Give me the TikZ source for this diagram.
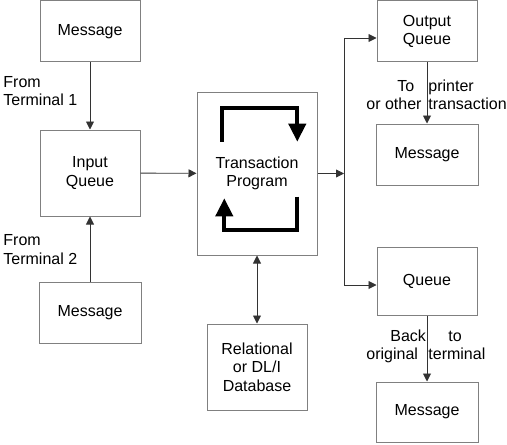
\documentclass[tikz,border=0pt]{standalone}
\usepackage{fontspec}
\setmainfont{Liberation Sans}
\usetikzlibrary{positioning,arrows.meta}
\definecolor{boxgray}{HTML}{808080}
\definecolor{linegray}{HTML}{333333}

\begin{document}
\begin{tikzpicture}[x=0.5pt, y=-0.5pt,
  txtfont/.style={font=\fontsize{8}{9.25}\selectfont},
  qbox/.style={draw=boxgray, line width=0.5pt, inner sep=0pt, align=center, txtfont},
  flow/.style={-{Triangle[length=4pt,width=4pt]}, draw=linegray, line width=0.45pt},
  twoway/.style={{Triangle[length=4pt,width=4pt]}-{Triangle[length=4pt,width=4pt]}, draw=linegray, line width=0.45pt},
  loopline/.style={-{Triangle[length=9pt,width=8.5pt]}, line width=2pt},
  word/.style={txtfont, inner sep=0pt, anchor=base west},
]
% Page frame in pixel units: 507 x 444
\useasboundingbox (0,0) rectangle (507,444);

% Left column: two terminals feeding the input queue
\node[qbox, minimum width=50pt, minimum height=30.5pt] (msgA) at (90,31.5) {Message};
\node[qbox, minimum width=50pt, minimum height=43pt] (inq) at (90,173) {Input\\Queue};
\node[qbox, minimum width=51pt, minimum height=30.5pt] (msgB) at (90,312.5) {Message};
\node[txtfont, inner sep=0pt, align=left, anchor=north west] (fromA) at (3,76) {From\\Terminal 1};
\node[txtfont, inner sep=0pt, align=left, anchor=north west] (fromB) at (3,234.5) {From\\Terminal 2};

% Middle column: program and database
\node[qbox, minimum width=60pt, minimum height=81.5pt] (tp) at (257,173.5) {Transaction\\Program};
\node[qbox, minimum width=50pt, minimum height=43pt] (db) at (257,367) {Relational\\or DL/I\\Database};

% Right column: output queues and messages
\node[qbox, minimum width=50pt, minimum height=30.5pt] (outq) at (427,31.5) {Output\\Queue};
\node[qbox, minimum width=51pt, minimum height=30.5pt] (msgC) at (427,154.5) {Message};
\node[qbox, minimum width=50pt, minimum height=34pt] (queue) at (427,281) {Queue};
\node[qbox, minimum width=51pt, minimum height=30pt] (msgD) at (427,412) {Message};

% Split labels round the downward connectors
\node[word] (wTo) at (397,91) {To};
\node[word] (wPrinter) at (428,91) {printer};
\node[word] (wOther) at (366,109) {or other};
\node[word] (wTrans) at (428,109) {transaction};
\node[word] (wBack) at (390,341) {Back};
\node[word] (wToB) at (448,341) {to};
\node[word] (wOrig) at (366,359.5) {original};
\node[word] (wTerm) at (428,359.5) {terminal};

% Connectors
\draw[flow] (msgA) -- (inq);
\draw[flow] (msgB) -- (inq);
\draw[flow] (inq) -- (tp);
\draw[twoway] (tp) -- (db);

\coordinate (bustop) at (344,38);
\coordinate (busbot) at (344,285);
\draw[linegray, line width=0.45pt] (bustop) -- (busbot);
\draw[flow] (tp.east) -- (tp.east -| bustop);
\draw[flow] (bustop) -- (bustop -| outq.west);
\draw[flow] (busbot) -- (busbot -| queue.west);
\draw[flow] (outq) -- (msgC);
\draw[flow] (queue) -- (msgD);

% Processing loop inside the program box
\draw[loopline] (221.7,141.7) -- (221.7,108.3) -- (297.3,108.3) -- (297.3,141.7);
\draw[loopline] (297.3,196.7) -- (297.3,230) -- (224.3,230) -- (224.3,198.3);
\end{tikzpicture}
\end{document}
